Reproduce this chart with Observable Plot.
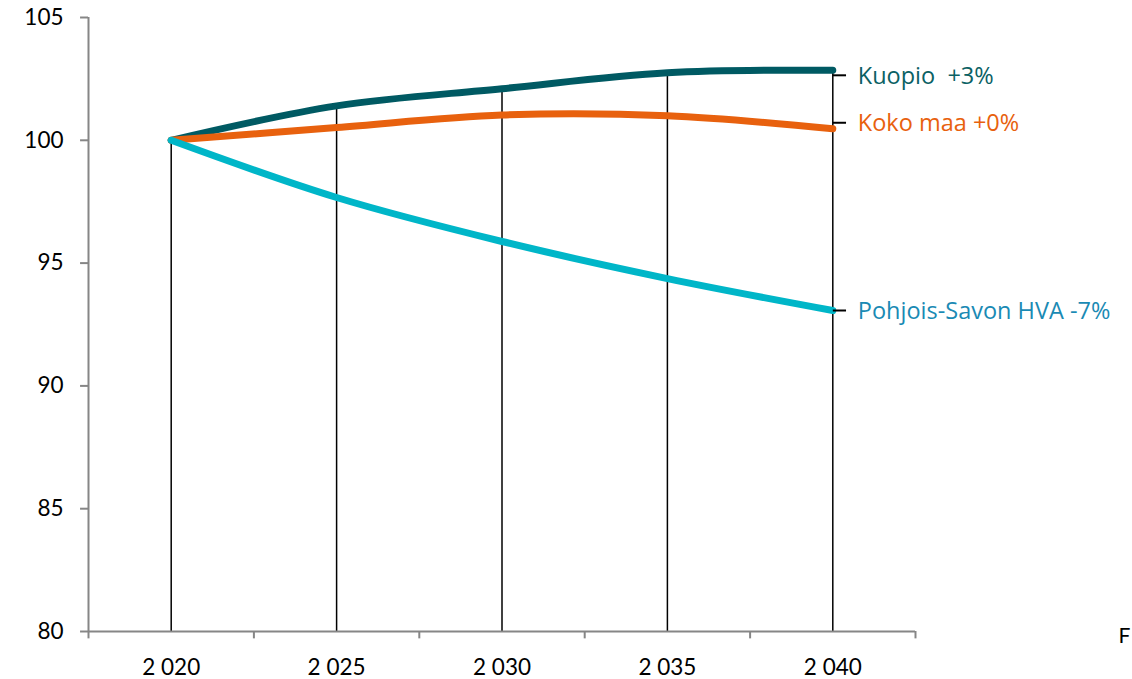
<!DOCTYPE html>
<html><head><meta charset="utf-8">
<script src="https://cdn.jsdelivr.net/npm/d3@7"></script>
<script src="https://cdn.jsdelivr.net/npm/@observablehq/plot@0.6"></script>
<style>body{margin:0;background:#fff}</style>
</head><body><div id="chart"></div>
<script>
const years = [2020, 2025, 2030, 2035, 2040];
const xTickLabels = ["2 020", "2 025", "2 030", "2 035", "2 040"];
const kuopio = [100, 101.4, 102.1, 102.75, 102.85];
const kokoMaa = [100, 100.52, 101.03, 101.0, 100.47];
const pohjoisSavo = [100, 97.67, 95.88, 94.37, 93.07];
const seriesNames = ["Kuopio", "Koko maa", "Pohjois-Savon HVA"];
const seriesLabels = ["Kuopio  +3%", "Koko maa +0%", "Pohjois-Savon HVA -7%"];
const seriesColors = ["#005A63", "#E8610E", "#00B6C8"];
const labelColors = ["#0B6164", "#E8610E", "#1A8AB4"];
const yTicks = [80, 85, 90, 95, 100, 105];

const allValues = [kuopio, kokoMaa, pohjoisSavo];
const rows = [];
allValues.forEach((vals, s) => years.forEach((y, i) => rows.push({series: seriesNames[s], year: y, value: vals[i]})));
const drops = years.map((y, i) => ({year: y, top: Math.max(kuopio[i], kokoMaa[i], pohjoisSavo[i])}));
const leaderDy = [5, -6, 0];
const ends = seriesNames.map((n, s) => ({series: n, label: seriesLabels[s], year: years[years.length - 1], value: allValues[s][years.length - 1], color: labelColors[s]}));
const half = (years[1] - years[0]) / 2;
const x0 = years[0] - half, x1 = years[years.length - 1] + half;
const boundaries = d3.range(x0, x1 + 0.001, years[1] - years[0]);

const labelMarks = ends.flatMap((e, s) => [
  Plot.link([e], {x1: "year", x2: d => d.year + 0.4, y1: "value", y2: "value", dy: leaderDy[s], stroke: "black", strokeWidth: 2}),
  Plot.text([e], {x: "year", y: "value", text: "label", fill: "color", textAnchor: "start", dx: 25, dy: leaderDy[s] + 1, fontSize: 23.5, fontFamily: "Open Sans"})
]);

const plot = Plot.plot({
  width: 1132, height: 679,
  marginLeft: 88, marginRight: 217, marginTop: 17, marginBottom: 48,
  x: {type: "linear", domain: [x0, x1], axis: null},
  y: {type: "linear", domain: [80, 105], axis: null},
  color: {domain: seriesNames, range: seriesColors},
  style: {fontFamily: "Lato", background: "white"},
  marks: [
    Plot.ruleX(drops, {x: "year", y1: 80, y2: "top", stroke: "black", strokeWidth: 1.5}),
    Plot.ruleY([80], {x1: x0, x2: x1, stroke: "#868686", strokeWidth: 2}),
    Plot.ruleX([x0], {y1: 80, y2: 105, stroke: "#868686", strokeWidth: 2}),
    Plot.ruleX(boundaries, {x: d => d, y1: 80, y2: 79.7, stroke: "#868686", strokeWidth: 2}),
    Plot.ruleY(yTicks, {y: d => d, x1: x0, x2: x0 - 0.24, stroke: "#868686", strokeWidth: 2}),
    Plot.text(yTicks, {x: x0, y: d => d, text: d => String(d), textAnchor: "end", dx: -25, fontSize: 22.5, fill: "black", fontFamily: "Lato"}),
    Plot.text(years, {x: d => d, y: 80, text: (d, i) => xTickLabels[i], dy: 36, fontSize: 22.5, fill: "black", fontFamily: "Lato"}),
    Plot.line(rows, {x: "year", y: "value", z: "series", stroke: "series", strokeWidth: 7, curve: "catmull-rom", strokeLinecap: "round"}),
    ...labelMarks,
    Plot.text(["F"], {x: x1, y: 80, text: d => d, dx: 203, dy: 5, fontSize: 21, fontFamily: "Lato", textAnchor: "start"})
  ]
});
document.getElementById("chart").appendChild(plot);
</script>
</body></html>
